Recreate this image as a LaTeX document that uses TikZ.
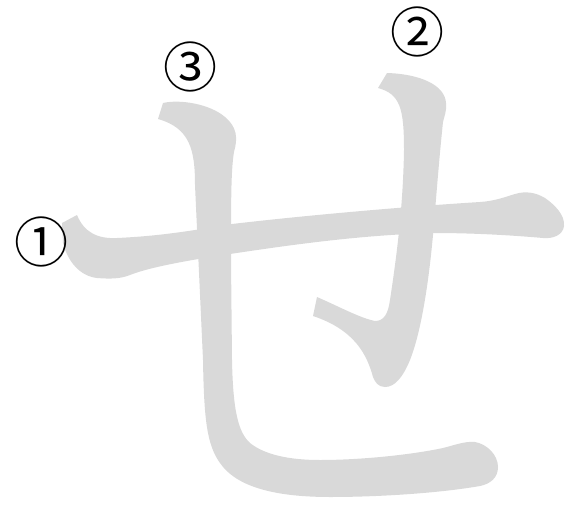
\documentclass[tikz,border=0pt]{standalone}
\usepackage{fontspec}
\newfontfamily\jpfont{Noto Sans CJK JP}
\usepackage{tikz}
\definecolor{strokegray}{HTML}{D9D9D9}
\tikzset{
  kanastroke/.style={
    fill=strokegray,
    draw=none
  },
  ordermark/.style={
    inner sep=0pt,
    font=\jpfont\fontsize{54}{54}\selectfont
  }
}

\begin{document}
\begin{tikzpicture}[x=1pt, y=-1pt]
  \useasboundingbox (0,0) rectangle (570,506);

  % stroke 1: horizontal bar
  \fill[kanastroke] (77,215) .. controls (84,232) and (97,239) .. (117,238)
    .. controls (160,236) and (190,231) .. (232,224)
    .. controls (300,216) and (400,207) .. (480,202)
    .. controls (495,201) and (505,197) .. (515,194)
    .. controls (525,191) and (535,192) .. (545,198)
    .. controls (555,205) and (565,215) .. (564,226)
    .. controls (563,235) and (553,239) .. (543,238)
    .. controls (520,236) and (480,233) .. (433,233)
    .. controls (360,235) and (290,245) .. (230,254)
    .. controls (190,260) and (150,267) .. (130,275)
    .. controls (120,279) and (110,279) .. (97,278)
    .. controls (80,276) and (68,262) .. (63,243)
    -- (62,223) -- cycle;

  % stroke 2: right vertical with hook
  \fill[kanastroke] (378,88) -- (387,73)
    .. controls (420,74) and (445,85) .. (446,103)
    .. controls (447,111) and (444,117) .. (443,122)
    .. controls (439,160) and (436,200) .. (433,235)
    .. controls (428,290) and (420,335) .. (410,360)
    .. controls (403,377) and (395,387) .. (385,387)
    .. controls (378,387) and (375,382) .. (373,377)
    .. controls (367,355) and (355,330) .. (313,316)
    -- (317,297)
    .. controls (340,307) and (360,318) .. (375,321)
    .. controls (384,321) and (388,314) .. (390,300)
    .. controls (396,260) and (403,210) .. (404,150)
    .. controls (404,108) and (400,94) .. (378,88) -- cycle;

  % stroke 3: left vertical turning right
  \fill[kanastroke] (158,119) -- (163,103)
    .. controls (180,99) and (210,104) .. (225,117)
    .. controls (237,127) and (238,138) .. (234,152)
    .. controls (231,170) and (231,200) .. (231,260)
    -- (232,360)
    .. controls (233,410) and (238,432) .. (250,443)
    .. controls (265,455) and (290,460) .. (320,460)
    .. controls (360,460) and (410,455) .. (443,448)
    .. controls (455,445) and (465,441) .. (475,442)
    .. controls (487,444) and (498,455) .. (498,467)
    .. controls (498,478) and (490,484) .. (480,486)
    .. controls (440,493) and (380,497) .. (330,497)
    .. controls (270,497) and (235,485) .. (220,463)
    .. controls (207,445) and (204,420) .. (203,360)
    -- (195,185)
    .. controls (195,150) and (190,128) .. (158,119) -- cycle;

  \node[ordermark] (first) at (41,242) {①};
  \node[ordermark] (second) at (417,32) {②};
  \node[ordermark] (third) at (190,67) {③};
\end{tikzpicture}
\end{document}
